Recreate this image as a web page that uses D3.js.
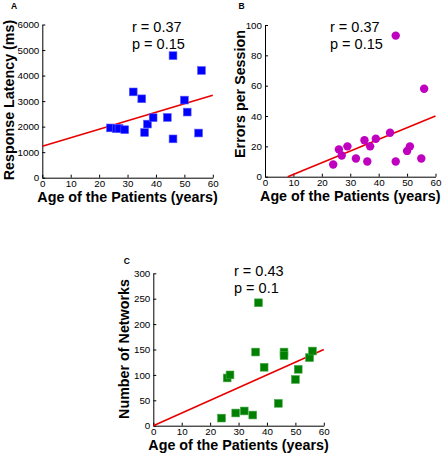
<!DOCTYPE html>
<html><head><meta charset="utf-8">
<script src="https://cdn.jsdelivr.net/npm/d3@7"></script>
<style>body{margin:0;background:#fff}svg{display:block}text{font-family:"Liberation Sans",Arial,sans-serif}</style>
</head><body>
<svg id="c" width="448" height="456"></svg>
<script>
const ages = [24,26,27,29,32,35,36,37,39,44,46,46,50,51,55,56];
const latency = [1950,1920,1930,1880,3360,3090,1770,2100,2350,2360,4780,1520,3040,2570,1750,4200];
const errors = [8,18,14,20,12,24,10,20,25,29,93,10,17,20,12,58];
const networks = [15,94,100,25,29,21,145,242,115,44,145,138,91,111,134,147];
const fitA = [[0,1230],[60,3230]];
const fitB = [[8,0],[60,40]];
const fitC = [[0,0],[60,150]];
const xTicks = [0,10,20,30,40,50,60];
const yTicksA = [0,1000,2000,3000,4000,5000,6000];
const yTicksB = [0,20,40,60,80,100];
const yTicksC = [0,50,100,150,200,250,300];
const xTitle = "Age of the Patients (years)";

const svg = d3.select("#c");

function panel(o){
  const g = svg.append("g");
  const x = d3.scaleLinear().domain([0,60]).range([o.left,o.left+170.5]);
  const y = d3.scaleLinear().domain([0,o.ymax]).range([o.bottom,o.top]);
  const xa = g.append("g").attr("transform",`translate(0,${o.bottom})`)
    .call(d3.axisBottom(x).tickValues(xTicks).tickFormat(d3.format("d")).tickSizeInner(-3).tickSizeOuter(0).tickPadding(2.5));
  const ya = g.append("g").attr("transform",`translate(${o.left},0)`)
    .call(d3.axisLeft(y).tickValues(o.yTicks).tickFormat(d3.format("d")).tickSizeInner(-3).tickSizeOuter(0).tickPadding(3));
  [xa,ya].forEach(a=>{
    a.selectAll("path,line").attr("stroke","#000").attr("stroke-width",1);
    a.selectAll("text").attr("font-size",9.8).attr("fill","#000").attr("font-family",'"Liberation Sans",Arial,sans-serif');
  });
  g.append("line")
    .attr("x1",x(o.fit[0][0])).attr("y1",y(o.fit[0][1]))
    .attr("x2",x(o.fit[1][0])).attr("y2",y(o.fit[1][1]))
    .attr("stroke","#e80000").attr("stroke-width",1.6);
  const pts = ages.map((a,i)=>({a, v:o.vals[i]}));
  if(o.shape==="circle"){
    g.selectAll("circle.m").data(pts).join("circle")
      .attr("cx",d=>x(d.a)).attr("cy",d=>y(d.v)).attr("r",4.2)
      .attr("fill",o.color);
  } else {
    const s = 7.8;
    g.selectAll("rect.m").data(pts).join("rect")
      .attr("x",d=>x(d.a)-s/2).attr("y",d=>y(d.v)-s/2).attr("width",s).attr("height",s)
      .attr("fill",o.color).attr("stroke",o.edge).attr("stroke-width",0.6);
  }
  g.append("text").attr("x",o.left+85.25).attr("y",o.bottom+24.5)
    .attr("text-anchor","middle").attr("font-size",14.3).attr("font-weight","bold").text(xTitle);
  g.append("text").attr("transform",`translate(${o.ytx},${o.yty}) rotate(-90)`)
    .attr("text-anchor","middle").attr("font-size",14.3).attr("font-weight","bold").text(o.ytitle);
  g.append("text").attr("x",o.sx).attr("y",o.sy).attr("font-size",14.5).text(o.r);
  g.append("text").attr("x",o.sx).attr("y",o.sy+17).attr("font-size",14.5).text(o.p);
  g.append("text").attr("x",o.lx).attr("y",o.ly).attr("text-anchor","middle")
    .attr("font-size",8.5).attr("font-weight","bold").text(o.label);
}

panel({left:42.3,top:24.5,bottom:177.7,ymax:6000,yTicks:yTicksA,vals:latency,fit:fitA,
  shape:"square",color:"#0000ff",edge:"#5a5aff",ytitle:"Response Latency (ms)",ytx:13.5,yty:100,
  r:"r = 0.37",p:"p = 0.15",sx:132,sy:32.3,label:"A",lx:14,ly:9});
panel({left:265,top:25,bottom:176.7,ymax:100,yTicks:yTicksB,vals:errors,fit:fitB,
  shape:"circle",color:"#bf00bf",ytitle:"Errors per Session",ytx:244.5,yty:94,
  r:"r = 0.37",p:"p = 0.15",sx:330,sy:32.3,label:"B",lx:241.5,ly:9});
panel({left:153.3,top:273.3,bottom:425.7,ymax:300,yTicks:yTicksC,vals:networks,fit:fitC,
  shape:"square",color:"#008000",edge:"#4aa84a",ytitle:"Number of Networks",ytx:128.5,yty:349,
  r:"r = 0.43",p:"p = 0.1",sx:234,sy:276,label:"C",lx:126.7,ly:264});
</script>
</body></html>
